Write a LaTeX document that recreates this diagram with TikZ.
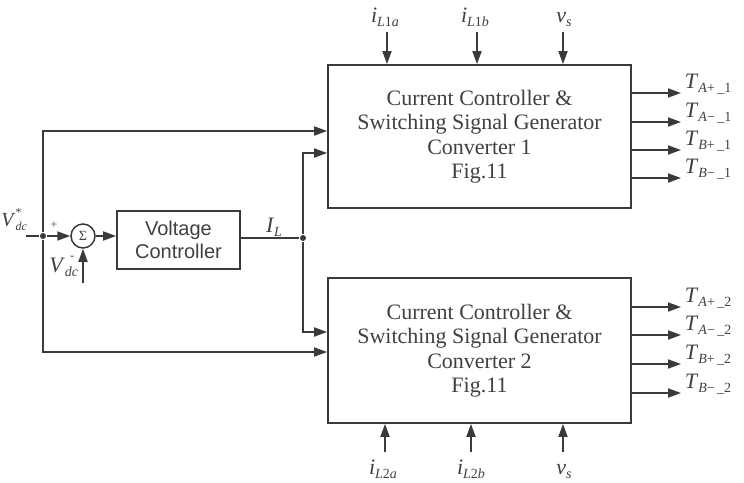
\documentclass[tikz,border=0pt]{standalone}
\usepackage{fontspec}
\setmainfont{Liberation Serif}
\newfontfamily\arialf{Liberation Sans}
\usetikzlibrary{arrows.meta}
\definecolor{ln}{HTML}{3A3A3A}
\definecolor{tx}{HTML}{404040}
\newcommand\subf{\fontsize{14}{14}\selectfont}
\newcommand\ml[2]{\textit{#1}\raisebox{-0.45ex}{\subf #2}}
\begin{document}
\begin{tikzpicture}[x=1pt,y=-1pt,line width=1.8pt,draw=ln,text=tx,
  >={Triangle[length=13pt,width=9pt]},
  box/.style={draw=ln,line width=1.8pt,rectangle,inner sep=0pt},
  conv/.style={box,minimum width=303pt,align=center,font=\fontsize{22}{24.5}\selectfont},
  dot/.style={circle,fill=ln,inner sep=0pt,minimum size=6pt},
  lab/.style={font=\fontsize{22}{22}\selectfont,inner sep=0pt},
  tlab/.style={lab,anchor=base west},
  ilab/.style={lab,anchor=base}]
\useasboundingbox (0,0) rectangle (744,482);
\fill[white] (0,0) rectangle (744,482);

% converter blocks
\node[conv,minimum height=143pt] (c1) at (479.5,136.5)
  {Current Controller \&\\Switching Signal Generator\\Converter 1\\Fig.11};
\node[conv,minimum height=145pt] (c2) at (479.5,350.5)
  {Current Controller \&\\Switching Signal Generator\\Converter 2\\Fig.11};

% voltage controller and summer
\node[box,minimum width=123pt,minimum height=58pt,align=center,
  font=\arialf\fontsize{20}{23}\selectfont] (vc) at (178.5,240) {Voltage\\Controller};
\node[circle,draw=ln,line width=1.5pt,minimum size=24pt,inner sep=0pt,
  font=\fontsize{14}{14}\selectfont] (sum) at (83,236) {Σ};
\node[dot] (d1) at (43,236) {};
\node[dot] (j) at (303,238) {};
\coordinate (vin) at (26,236);
\coordinate (fb) at (83,283);

\draw (vin) -- (d1);
\draw[->] (d1) -- (sum.west);
\draw[->] (fb) -- (sum.south);
\draw[->] (sum.east) -- (vc.west |- sum.east);
\draw (vc.east |- j) -- (j);
\draw[->] (d1) |- (c1.west |- 0,131);
\draw[->] (d1) |- (c2.west |- 0,352);
\draw[->] (j) |- (c1.west |- 0,153);
\draw[->] (j) |- (c2.west |- 0,332);

% left labels
\node[lab,anchor=base west,font=\fontsize{20}{20}\selectfont] (lvref) at (0.5,226)
  {\textit{V}\rlap{\raisebox{1.0ex}{\fontsize{12}{12}\selectfont *}}\raisebox{-0.45ex}{\fontsize{12}{12}\selectfont\textit{dc}}};
\node[lab,anchor=base east] (lvdc) at (79,272) {\ml{V}{\textit{dc}}};
\node[font=\fontsize{12}{12}\selectfont,inner sep=0pt] (lplus) at (54,225) {+};
\node[font=\fontsize{12}{12}\selectfont,inner sep=0pt] (lminus) at (72,258) {-};
\node[ilab] (lil) at (274,232) {\ml{I}{\textit{L}}};

% top inputs of converter 1
\coordinate (a1) at (387,32);
\coordinate (a2) at (477,32);
\coordinate (a3) at (563,32);
\draw[->] (a1) -- (a1 |- c1.north);
\draw[->] (a2) -- (a2 |- c1.north);
\draw[->] (a3) -- (a3 |- c1.north);
\node[ilab] (la1) at (385,22) {\ml{i}{\textit{L}1\textit{a}}};
\node[ilab] (la2) at (475,22) {\ml{i}{\textit{L}1\textit{b}}};
\node[ilab] (la3) at (564,22) {\ml{v}{\textit{s}}};

% bottom inputs of converter 2
\coordinate (b1) at (385,452);
\coordinate (b2) at (471,452);
\coordinate (b3) at (563,452);
\draw[->] (b1) -- (b1 |- c2.south);
\draw[->] (b2) -- (b2 |- c2.south);
\draw[->] (b3) -- (b3 |- c2.south);
\node[ilab] (lb1) at (383,474) {\ml{i}{\textit{L}2\textit{a}}};
\node[ilab] (lb2) at (471,474) {\ml{i}{\textit{L}2\textit{b}}};
\node[ilab] (lb3) at (564,474) {\ml{v}{\textit{s}}};

% outputs of converter 1
\coordinate (o11) at (681,93);
\coordinate (o12) at (681,122);
\coordinate (o13) at (681,150);
\coordinate (o14) at (681,178);
\draw[->] (c1.east |- o11) -- (o11);
\draw[->] (c1.east |- o12) -- (o12);
\draw[->] (c1.east |- o13) -- (o13);
\draw[->] (c1.east |- o14) -- (o14);
\node[tlab] (t11) at (684,88) {\ml{T}{\textit{A}+\,\_1}};
\node[tlab] (t12) at (684,117) {\ml{T}{\textit{A}−\,\_1}};
\node[tlab] (t13) at (684,145) {\ml{T}{\textit{B}+\,\_1}};
\node[tlab] (t14) at (684,173) {\ml{T}{\textit{B}−\,\_1}};

% outputs of converter 2
\coordinate (o21) at (681,307);
\coordinate (o22) at (681,335);
\coordinate (o23) at (681,364);
\coordinate (o24) at (681,393);
\draw[->] (c2.east |- o21) -- (o21);
\draw[->] (c2.east |- o22) -- (o22);
\draw[->] (c2.east |- o23) -- (o23);
\draw[->] (c2.east |- o24) -- (o24);
\node[tlab] (t21) at (684,302) {\ml{T}{\textit{A}+\,\_2}};
\node[tlab] (t22) at (684,330) {\ml{T}{\textit{A}−\,\_2}};
\node[tlab] (t23) at (684,359) {\ml{T}{\textit{B}+\,\_2}};
\node[tlab] (t24) at (684,388) {\ml{T}{\textit{B}−\,\_2}};
\end{tikzpicture}
\end{document}
